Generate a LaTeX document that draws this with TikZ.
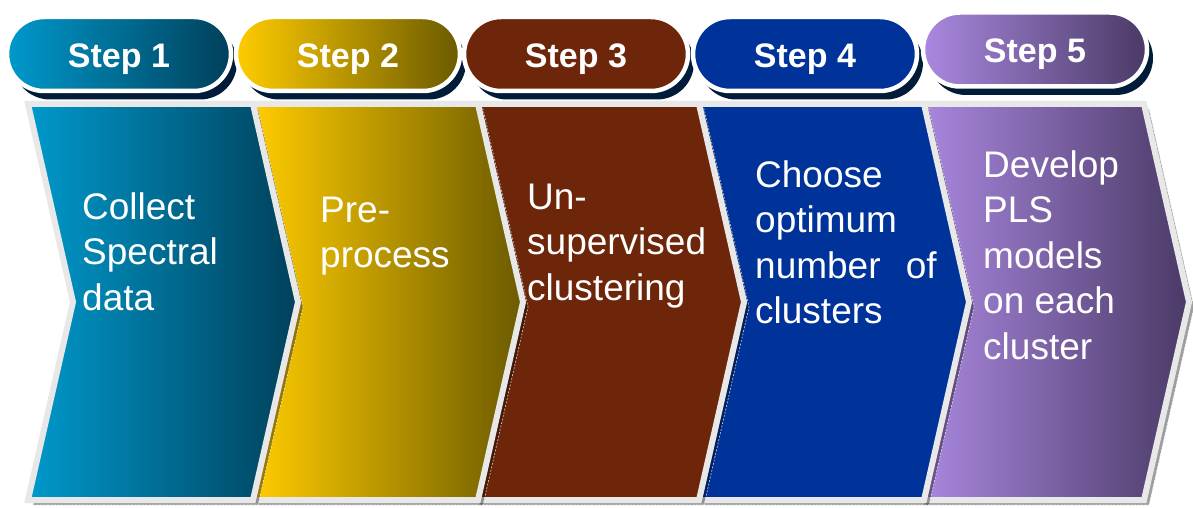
\documentclass[tikz,border=0pt]{standalone}
\usepackage{fontspec}
\setmainfont{Liberation Sans}
\usetikzlibrary{shadows}

\definecolor{tealL}{RGB}{0,153,204}
\definecolor{tealR}{RGB}{0,64,90}
\definecolor{goldL}{RGB}{255,204,0}
\definecolor{goldR}{RGB}{107,90,0}
\definecolor{rust}{RGB}{110,38,11}
\definecolor{royal}{RGB}{0,51,153}
\definecolor{lilacL}{RGB}{170,136,224}
\definecolor{lilacR}{RGB}{74,58,102}
\definecolor{rim}{RGB}{232,232,232}
\definecolor{navyshadow}{RGB}{0,28,56}

\tikzset{
  chevrim/.style={draw=rim, line width=6pt, line join=miter},
  chevshadow/.style={fill=black, fill opacity=0.38},
  shadowdash/.style={draw=white, line width=0.6pt, dash pattern=on 2pt off 1.5pt, draw opacity=0.8},
  chevA/.style={left color=tealL, right color=tealR},
  chevB/.style={left color=goldL, right color=goldR},
  chevC/.style={fill=rust},
  chevD/.style={fill=royal},
  chevE/.style={left color=lilacL, right color=lilacR},
  pill/.style={rectangle, rounded corners=37pt, minimum width=224pt, minimum height=74pt,
    draw=white, line width=4.5pt, text=white,
    font=\fontsize{34}{40}\selectfont\bfseries, text height=27pt, text depth=0pt,
    drop shadow={shadow xshift=6pt, shadow yshift=-8.5pt, fill=navyshadow, opacity=1}},
  steptext/.style={anchor=base west, inner sep=0pt, text=white,
    font=\fontsize{37}{45.5}\selectfont}
}

\begin{document}
\begin{tikzpicture}[x=1pt, y=-1pt]
  % canvas
  \fill[white] (0,0) rectangle (1193,508);
  \useasboundingbox (0,0) rectangle (1193,508);

  % chevron arrows, right to left so each shadow lies over its right neighbour
  \foreach \L/\sty in {919/chevE, 699/chevD, 474/chevC, 253/chevB, 28/chevA}{
    \begin{scope}[shift={(5,5)}]
      \fill[chevshadow] (\L,104) -- ++(225,0) -- ++(45,198) -- ++(-45,198)
        -- ++(-225,0) -- ++(45,-198) -- cycle;
      \draw[shadowdash] (\L,104) -- ++(225,0) -- ++(45,198) -- ++(-45,198)
        -- ++(-225,0) -- ++(45,-198) -- cycle;
    \end{scope}
    \draw[chevrim, \sty] (\L,104) -- ++(225,0) -- ++(45,198) -- ++(-45,198)
      -- ++(-225,0) -- ++(45,-198) -- cycle;
  }

  % step texts
  \node[steptext] (t1) at (82,219) {\vtop{\hbox{Collect}\hbox{Spectral}\hbox{data}}};
  \node[steptext] (t2) at (320,222) {\vtop{\hbox{Pre-}\hbox{process}}};
  \node[steptext] (t3) at (527,209) {\vtop{\hbox{Un-}\hbox{supervised}\hbox{clustering}}};
  \node[steptext] (t4) at (755,187) {\vtop{\hbox{Choose}\hbox{optimum}\hbox{number\hspace{15pt} of}\hbox{clusters}}};
  \node[steptext] (t5) at (983,177) {\vtop{\hbox{Develop}\hbox{PLS}\hbox{models}\hbox{on each}\hbox{cluster}}};

  % step labels
  \node[pill, left color=tealL, right color=tealR] (p1) at (119,54) {Step 1};
  \node[pill, left color=goldL, right color=goldR] (p2) at (348,54) {Step 2};
  \node[pill, fill=rust] (p3) at (576,54) {Step 3};
  \node[pill, fill=royal] (p4) at (805,54) {Step 4};
  \node[pill, left color=lilacL, right color=lilacR] (p5) at (1035,49.5) {Step 5};
\end{tikzpicture}
\end{document}
